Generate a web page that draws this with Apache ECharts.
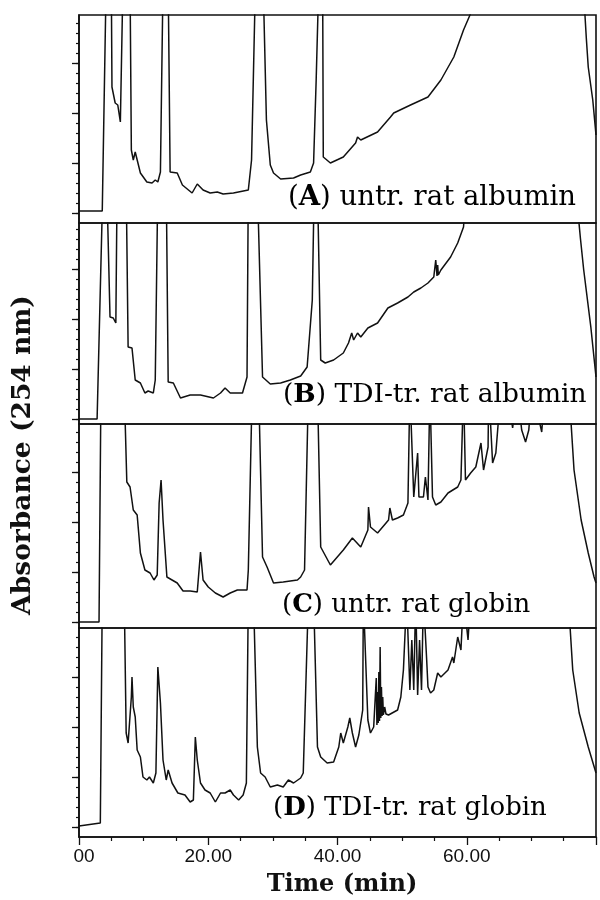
<!DOCTYPE html>
<html lang="en">
<head>
<meta charset="UTF-8">
<title>HPLC chromatograms</title>
<style>
    html, body { margin: 0; padding: 0; background: #fff; }
</style>
</head>
<body>
<div id="chart" style="width:600px;height:900px;"></div>
<script src="https://cdn.jsdelivr.net/npm/echarts@6/dist/echarts.min.js"></script>
<script>
    // [time (min), absorbance (arb. units)] ; off-scale peaks are given as 24
    var traceA = [[0,1.2],[3.6,1.2],[4.2,24],[5.0,24],[5.1,13.6],[5.6,12.0],[6.0,11.8],[6.4,10.1],[6.8,24],[7.9,24],
        [8.1,7.3],[8.4,6.3],[8.7,7.1],[9.5,5.0],[10.5,4.1],[11.3,4.0],[11.8,4.3],[12.2,4.1],[12.6,5.1],[13.0,24],[13.8,24],
        [14.1,5.1],[15.2,5.0],[16.0,3.8],[17.5,3.0],[18.3,3.9],[19.2,3.3],[20.3,3.0],[21.4,3.1],[22.3,2.9],[23.9,3.0],
        [26.2,3.3],[26.7,6.3],[27.3,24],[28.5,24],[29.0,10.3],[29.6,5.8],[30.1,5.0],[31.2,4.4],[33.2,4.5],[34.3,4.8],
        [35.8,5.1],[36.3,6.0],[36.7,14.3],[37.1,24],[37.7,24],[37.8,6.6],[38.9,6.0],[40.9,6.6],[42.8,8.0],[43.1,8.6],
        [43.6,8.3],[46.2,9.1],[48.2,10.6],[48.7,11.0],[51.3,11.8],[54.0,12.6],[56.0,14.3],[58.0,16.6],[59.5,19.3],
        [60.5,20.8],[61.4,24],[78.0,24],[78.5,18.5],[78.8,15.6],[79.5,12.3],[80,8.8]];

    var traceB = [[0,0.5],[2.8,0.5],[3.7,24],[4.3,24],[4.8,10.7],[5.3,10.6],[5.7,10.1],[5.9,24],[7.3,24],[7.6,7.7],
        [8.2,7.6],[8.7,4.4],[9.5,4.1],[10.2,3.1],[10.7,3.3],[11.5,3.1],[11.8,4.4],[12.2,24],[13.5,24],[13.8,4.2],
        [14.6,4.1],[15.7,2.6],[17.2,2.9],[18.8,2.9],[20.8,2.6],[21.9,3.1],[22.6,3.6],[23.4,3.1],[25.3,3.1],[26.0,4.7],
        [26.2,24],[27.6,24],[28.4,4.7],[29.6,4.0],[31.2,4.1],[32.7,4.4],[34.3,4.8],[35.3,5.7],[36.1,12.4],[36.4,24],
        [36.9,24],[37.4,6.4],[38.1,6.1],[39.4,6.4],[40.9,7.1],[41.7,8.1],[42.2,9.1],[42.5,8.4],[43.1,9.1],[43.6,8.7],
        [44.7,9.6],[46.2,10.1],[47.8,11.6],[49.3,12.1],[50.9,12.7],[51.8,13.2],[52.9,13.6],[54.0,14.1],[54.9,14.7],
        [55.2,16.4],[55.4,14.8],[55.5,15.9],[55.6,14.9],[56.0,15.4],[57.5,16.7],[58.6,18.1],[59.5,19.7],[60.0,24],
        [76.8,24],[77.6,18.5],[78.1,15.4],[79.2,9.7],[80,4.7]];

    var traceC = [[0,0.6],[3.1,0.6],[3.4,24],[7.0,24],[7.4,14.6],[7.9,14.1],[8.4,11.8],[9.0,11.3],[9.5,7.5],[10.2,5.8],
        [11.0,5.5],[11.6,4.8],[12.1,5.3],[12.4,12.5],[12.7,14.8],[13.0,10.8],[13.6,5.1],[14.4,4.8],[15.2,4.5],[16.1,3.7],
        [17.2,3.7],[18.3,3.6],[18.8,7.6],[19.2,4.8],[20.0,4.1],[21.1,3.5],[22.3,3.1],[23.4,3.5],[24.5,3.8],[26.0,3.8],
        [26.2,5.8],[26.8,24],[27.8,24],[28.4,7.1],[29.1,6.1],[30.1,4.5],[31.6,4.6],[33.8,4.8],[34.3,5.1],[34.9,5.8],
        [35.5,24],[36.9,24],[37.4,8.1],[38.9,6.3],[40.9,7.8],[42.3,9.0],[43.6,8.1],[44.7,9.8],[44.8,12.1],[45.1,10.1],
        [46.2,9.5],[47.9,10.8],[48.1,12.0],[48.5,10.8],[49.3,11.0],[50.2,11.3],[50.9,12.5],[51.2,24],[51.5,24],
        [51.8,13.1],[52.4,17.5],[52.6,13.1],[53.3,13.1],[53.6,15.1],[54.0,12.8],[54.3,24],[54.6,24],[54.7,13.1],
        [55.2,12.3],[56.0,12.6],[57.1,13.5],[58.6,14.1],[59.1,14.8],[59.5,24],[59.8,14.8],[60.6,15.5],[61.4,16.1],
        [62.2,18.5],[62.6,15.8],[63.3,18.1],[63.4,24],[64.0,16.5],[64.5,17.5],[65.3,24],[66.2,24],[67.1,20.0],
        [67.8,24],[68.5,19.8],[69.1,18.6],[69.6,19.8],[70.1,24],[71.6,19.6],[72.1,24],[75.8,24],[76.6,15.8],
        [77.7,10.8],[78.8,7.5],[79.7,5.1],[80,4.5]];

    var traceD = [[0,1.1],[3.3,1.4],[3.6,24],[7.0,24],[7.3,10.4],[7.6,9.4],[8.1,14.0],[8.2,16.0],[8.4,13.0],[8.7,12.0],
        [9.0,8.7],[9.5,8.0],[9.9,6.0],[10.5,5.7],[10.9,6.0],[11.5,5.4],[11.9,6.4],[12.2,17.0],[12.6,13.4],[13.0,7.7],
        [13.5,5.7],[13.8,6.7],[14.4,5.4],[15.3,4.4],[16.4,4.2],[17.2,3.5],[17.7,3.7],[18.0,10.0],[18.3,7.7],[18.8,5.4],
        [19.5,4.7],[20.3,4.4],[21.1,3.5],[21.9,4.4],[22.6,4.4],[23.4,4.7],[23.9,4.2],[24.7,3.7],[25.4,4.2],[25.9,5.4],
        [26.2,24],[27.0,24],[27.6,9.0],[28.1,6.4],[28.8,6.0],[29.6,5.0],[30.7,5.2],[31.6,5.0],[32.4,5.7],[33.2,5.4],
        [34.3,5.9],[34.7,6.4],[35.5,24],[36.3,24],[36.9,9.0],[37.4,8.0],[38.4,7.4],[39.4,7.5],[40.2,9.0],[40.5,10.4],
        [40.9,9.4],[41.6,11.0],[41.9,11.9],[42.3,10.4],[42.8,9.0],[43.3,10.2],[43.9,12.7],[44.0,24],[44.3,24],
        [44.7,11.7],[45.1,10.4],[45.6,11.0],[46.0,15.9],[46.1,11.2],[46.2,14.5],[46.3,11.4],[46.4,16.5],[46.5,11.6],
        [46.6,19.0],[46.7,11.9],[46.8,15.0],[46.9,12.1],[47.0,14.0],[47.1,12.2],[47.3,13.0],[47.5,12.3],[47.9,12.2],
        [49.3,12.7],[49.8,14.0],[50.2,16.7],[50.7,24],[51.2,14.7],[51.5,19.7],[51.8,14.7],[52.1,24],[52.4,14.2],
        [52.7,19.7],[53.0,14.7],[53.3,24],[53.8,17.7],[54.0,15.0],[54.4,14.4],[54.9,14.7],[55.5,16.4],[56.0,16.0],
        [57.1,16.7],[57.8,18.0],[58.0,17.4],[58.6,20.0],[59.1,18.7],[59.5,24],[60.2,19.7],[60.6,24],[75.7,24],
        [76.4,16.7],[77.4,12.4],[78.8,9.0],[80,6.4]];

    var traces = [traceA, traceB, traceC, traceD];
    var panelLetters = ['A', 'B', 'C', 'D'];
    var panelNames = [') untr. rat albumin', ') TDI-tr. rat albumin', ') untr. rat globin', ') TDI-tr. rat globin'];
    var timeLabels = {0: '00', 20: '20.00', 40: '40.00', 60: '60.00'};

    // layout of the four stacked panels (px)
    var panels = [
        { top: 15,  height: 208, tick0: 1.0, labelX: 288, labelY: 198, labelSize: 27.5 },
        { top: 223, height: 201, tick0: 0.5, labelX: 283, labelY: 395, labelSize: 26.5 },
        { top: 424, height: 204, tick0: 0.6, labelX: 282, labelY: 605, labelSize: 26 },
        { top: 628, height: 209, tick0: 1.0, labelX: 273, labelY: 808, labelSize: 26 }
    ];

    var ink = '#111';
    var chart = echarts.init(document.getElementById('chart'));

    var grid = [], xAxis = [], yAxis = [], series = [], graphic = [];

    panels.forEach(function (p, i) {
        var ymax = p.height / 10;
        var major = [], minor = [];
        for (var v = p.tick0; v < ymax; v += 1) {
            minor.push(+v.toFixed(2));
            if (Math.round(v - p.tick0) % 5 === 0) major.push(+v.toFixed(2));
        }

        grid.push({
            left: 79, right: 4, top: p.top, height: p.height,
            show: true, borderColor: ink, borderWidth: 1.6, backgroundColor: 'transparent'
        });

        xAxis.push({
            gridIndex: i, type: 'value', min: 0, max: 80, interval: 20,
            show: i === 3,
            axisLine: { show: true, lineStyle: { color: ink, width: 1.6 } },
            axisTick: { show: true, length: 8, lineStyle: { color: ink, width: 1.3 } },
            minorTick: { show: true, splitNumber: 4, length: 4, lineStyle: { color: ink, width: 1.2 } },
            axisLabel: {
                margin: 10,
                fontFamily: 'Liberation Sans', fontSize: 19, color: ink,
                formatter: function (val) {
                    if (val === 0) return '{z|' + timeLabels[0] + '}';
                    return timeLabels[val] || '';
                },
                rich: { z: { fontFamily: 'Liberation Sans', fontSize: 19, color: ink, padding: [0, 0, 0, 10] } }
            },
            splitLine: { show: false }
        });

        yAxis.push({
            gridIndex: i, type: 'value', min: 0, max: ymax, position: 'left',
            axisLine: { show: true, lineStyle: { color: ink, width: 1.6 } },
            axisTick: { show: true, length: 7, customValues: major, lineStyle: { color: ink, width: 1.3 } },
            axisLabel: { show: false },
            splitLine: { show: false }
        });
        yAxis.push({
            gridIndex: i, type: 'value', min: 0, max: ymax, position: 'left',
            axisLine: { show: false },
            axisTick: { show: true, length: 3, customValues: minor, lineStyle: { color: ink, width: 1.2 } },
            axisLabel: { show: false },
            splitLine: { show: false }
        });

        series.push({
            type: 'line',
            xAxisIndex: i, yAxisIndex: 2 * i,
            data: traces[i],
            showSymbol: false,
            clip: true,
            lineStyle: { color: ink, width: 1.5 },
            silent: true
        });

        graphic.push({
            type: 'text',
            style: {
                x: p.labelX, y: p.labelY,
                text: '{p|(}{b|' + panelLetters[i] + '}{p|' + panelNames[i] + '}',
                verticalAlign: 'middle',
                rich: {
                    p: { fontFamily: 'DejaVu Serif', fontSize: p.labelSize, color: ink },
                    b: { fontFamily: 'DejaVu Serif', fontSize: p.labelSize, fontWeight: 'bold', color: ink }
                }
            }
        });
    });

    graphic.push({
        type: 'text',
        rotation: Math.PI / 2,
        x: 23, y: 455,
        style: {
            text: 'Absorbance (254 nm)',
            fontFamily: 'DejaVu Serif', fontSize: 26.5, fontWeight: 'bold', fill: ink,
            align: 'center', verticalAlign: 'middle'
        }
    });
    graphic.push({
        type: 'text',
        x: 342, y: 885,
        style: {
            text: 'Time (min)',
            fontFamily: 'DejaVu Serif', fontSize: 24, fontWeight: 'bold', fill: ink,
            align: 'center', verticalAlign: 'middle'
        }
    });

    chart.setOption({
        backgroundColor: '#fff',
        animation: false,
        grid: grid,
        xAxis: xAxis,
        yAxis: yAxis,
        series: series,
        graphic: graphic
    });
</script>
</body>
</html>
